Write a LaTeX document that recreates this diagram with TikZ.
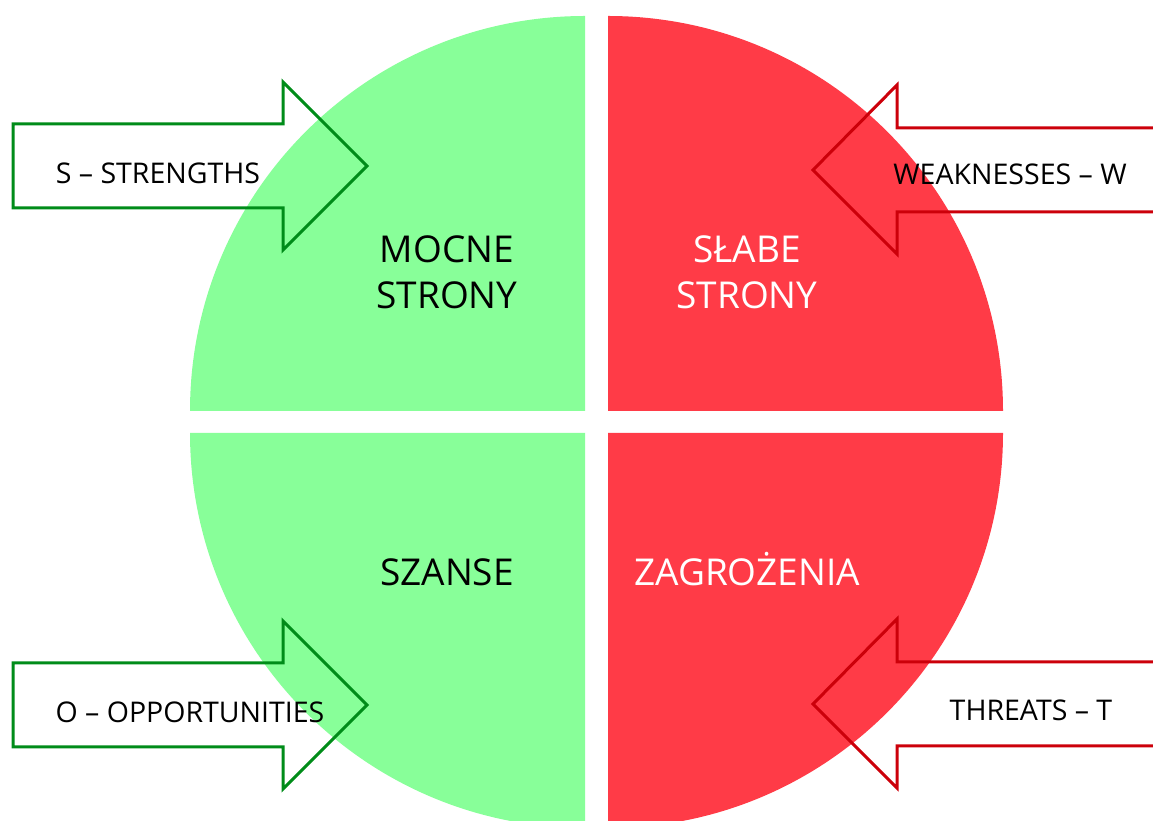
\documentclass[tikz,border=0pt]{standalone}
\usepackage{fontspec}
\setmainfont{Open Sans}
\definecolor{swotgreen}{RGB}{136,255,153}
\definecolor{swotred}{RGB}{255,59,71}
\definecolor{greenline}{RGB}{0,140,25}
\definecolor{redline}{RGB}{204,0,10}
\usetikzlibrary{positioning, calc}
\tikzstyle{quarter}=[draw=none]
\tikzstyle{greenarrow}=[draw=greenline, line width=3pt, line join=miter]
\tikzstyle{redarrow}=[draw=redline, line width=3pt, line join=miter]
\tikzstyle{arrowlabel}=[anchor=base, inner sep=0pt, font=\fontsize{28.5}{34}\selectfont]
\tikzstyle{fieldlabel}=[anchor=base, inner sep=0pt, align=center, font=\fontsize{37}{46}\selectfont]

\begin{document}
\begin{tikzpicture}[x=1pt, y=1pt]
    	\useasboundingbox (0,0) rectangle (1153,821);
    	\clip (0,0) rectangle (1153,821);
    	% Quarters
    	\fill[quarter, swotgreen] (585,410) -- ++(-395,0) arc[start angle=180, end angle=90, radius=395] -- cycle;
    	\fill[quarter, swotred] (608,410) -- ++(0,395) arc[start angle=90, end angle=0, radius=395] -- cycle;
    	\fill[quarter, swotgreen] (585,388) -- ++(-395,0) arc[start angle=180, end angle=270, radius=395] -- cycle;
    	\fill[quarter, swotred] (608,388) -- ++(395,0) arc[start angle=0, end angle=-90, radius=395] -- cycle;

    	% Arrows
    	\coordinate (stip) at (367,655);
    	\coordinate (otip) at (367,116);
    	\coordinate (wtip) at (813,651);
    	\coordinate (ttip) at (813,117);
    	\foreach \tip in {stip, otip}
    		\draw[greenarrow] (\tip) -- ++(-84,84) -- ++(0,-42) -- ++(-270,0) -- ++(0,-84) -- ++(270,0) -- ++(0,-42) -- cycle;
    	\foreach \tip in {wtip, ttip}
    		\draw[redarrow] (\tip) -- ++(84,85) -- ++(0,-43) -- ++(280,0) -- ++(0,-84) -- ++(-280,0) -- ++(0,-42) -- cycle;

    	% Nodes
    	\node[arrowlabel] (strengths) at (158,637) {S – STRENGTHS};
    	\node[arrowlabel] (opportunities) at (190,98) {O – OPPORTUNITIES};
    	\node[arrowlabel] (weaknesses) at (1010,636) {WEAKNESSES – W};
    	\node[arrowlabel] (threats) at (1031,100) {THREATS – T};
    	\node[fieldlabel] (mocne) at (447,558) {MOCNE};
    	\node[fieldlabel, below=46pt of mocne.base, anchor=base] (mocne2) {STRONY};
    	\node[fieldlabel, white] (slabe) at (747,558) {SŁABE};
    	\node[fieldlabel, white, below=46pt of slabe.base, anchor=base] (slabe2) {STRONY};
    	\node[fieldlabel] (szanse) at (447,235) {SZANSE};
    	\node[fieldlabel, white] (zagrozenia) at (747,235) {ZAGROŻENIA};
    \end{tikzpicture}
\end{document}
